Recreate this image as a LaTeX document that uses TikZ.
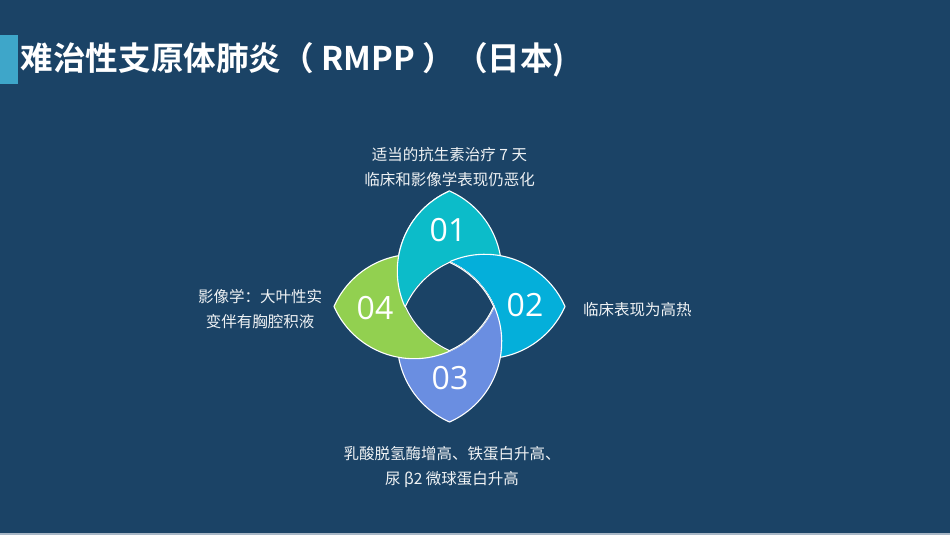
\documentclass[tikz,border=0pt]{standalone}
\usepackage{fontspec}
\setmainfont{Open Sans}
\newfontfamily\cjk{Noto Sans CJK SC}[BoldFont={Noto Sans CJK SC Bold}]
\usetikzlibrary{positioning}
\definecolor{slide_bg}{HTML}{1B4366}
\definecolor{title_bar}{HTML}{3EA6C9}
\definecolor{petal_a}{HTML}{0CBCC9}
\definecolor{petal_b}{HTML}{04AFDA}
\definecolor{petal_c}{HTML}{6A8EE1}
\definecolor{petal_d}{HTML}{92D050}
\definecolor{slide_edge}{HTML}{A8B7C6}
\tikzset{petal/.style={draw=white, line width=1.1pt}}
\tikzset{petalnum/.style={text=white, inner sep=0pt, font=\fontsize{32}{32}\selectfont}}
\tikzset{desc/.style={text=white!93!slide_bg, align=center, inner sep=0pt, font=\cjk\fontsize{15.5}{25}\selectfont}}
% one petal, tip up, lens of two circles (r = 87.6)
\newcommand{\petalshape}{(0,115.5) arc[start angle=113.84, end angle=246.16, radius=87.6]
  arc[start angle=-66.16, end angle=66.16, radius=87.6] -- cycle}

\begin{document}
\begin{tikzpicture}[x=1pt, y=1pt]
  \fill[slide_bg] (0,0) rectangle (950,535);
  \useasboundingbox (0,0) rectangle (950,535);
  \fill[slide_edge] (0,0) rectangle (950,1.5);

  \fill[title_bar] (0,451) rectangle (18,500);
  \node[anchor=west, inner sep=0pt, text=white, font=\cjk\bfseries\fontsize{32.6}{32.6}\selectfont] (title) at (20.5,475) {难治性支原体肺炎（ RMPP ）（日本)};

  \begin{scope}[shift={(449.5,228.5)}]
    \foreach \ang/\col in {0/petal_a, -90/petal_b, -180/petal_c, -270/petal_d}
      \filldraw[petal, fill=\col, rotate=\ang] \petalshape;
    % 01 lies over 04
    \begin{scope}
      \clip (-150,0) rectangle (0,150);
      \filldraw[petal, fill=petal_a] \petalshape;
    \end{scope}
    % centre hole
    \begin{scope}
      \clip (35.4,-35.4) circle[radius=87.6];
      \clip (-35.4,-35.4) circle[radius=87.6];
      \clip (-35.4,35.4) circle[radius=87.6];
      \clip (35.4,35.4) circle[radius=87.6];
      \fill[slide_bg] (-60,-60) rectangle (60,60);
      \foreach \cx/\cy in {35.4/-35.4, -35.4/-35.4, -35.4/35.4, 35.4/35.4}
        \draw[white, line width=2.2pt] (\cx,\cy) circle[radius=87.6];
    \end{scope}

    \node[petalnum] (n01) at (-1.5,76.5) {01};
    \node[petalnum] (n02) at (75.5,1.5) {02};
    \node[petalnum] (n03) at (0.5,-71.5) {03};
    \node[petalnum] (n04) at (-74.5,-1.5) {04};
  \end{scope}

  \node[desc] (txt01) at (449.5,367.5) {适当的抗生素治疗 7 天\\临床和影像学表现仍恶化};
  \node[desc, anchor=west] (txt02) at (583,225) {临床表现为高热};
  \node[desc] (txt03) at (452,67.5) {乳酸脱氢酶增高、铁蛋白升高、\\尿 β2 微球蛋白升高};
  \node[desc] (txt04) at (260,225.5) {影像学：大叶性实\\变伴有胸腔积液};
\end{tikzpicture}
\end{document}
